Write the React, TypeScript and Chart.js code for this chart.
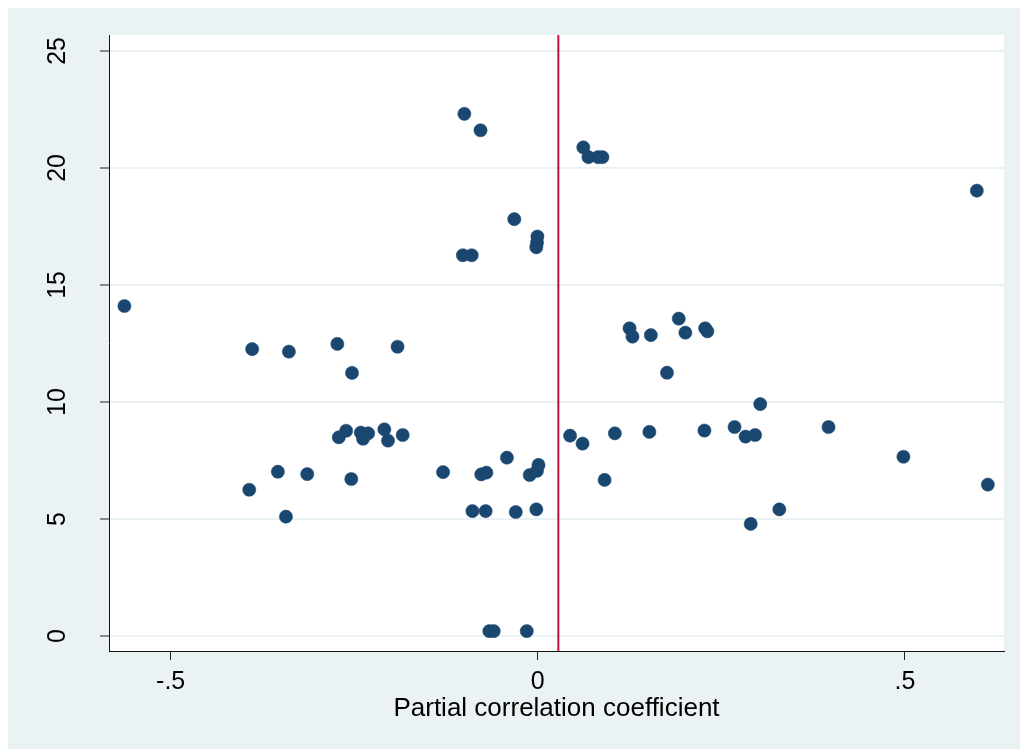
import React, { useEffect, useRef } from "react";
import { Chart, registerables } from "chart.js";

Chart.register(...registerables);

// Partial correlation coefficient (x) against outcome (y)
const xValues = [
  -0.563, -0.389, -0.339, -0.354, -0.393, -0.343, -0.273, -0.191, -0.253, -0.271,
  -0.261, -0.241, -0.238, -0.231, -0.209, -0.204, -0.184, -0.314, -0.254, -0.129,
  -0.077, -0.07, -0.042, -0.011, 0.001, -0.001, -0.089, -0.071, -0.03, -0.002,
  -0.066, -0.06, -0.015, 0.044, 0.061, 0.091, 0.105, 0.125, 0.129, 0.154,
  0.192, 0.201, 0.228, 0.231, 0.176, 0.303, 0.152, 0.227, 0.268, 0.283,
  0.296, 0.396, 0.29, 0.329, 0.598, 0.498, 0.613, -0.1, -0.078, 0.062,
  0.069, 0.082, 0.088, -0.032, -0.0005, -0.001, -0.002, -0.102, -0.09,
];
const yValues = [
  14.1, 12.26, 12.15, 7.02, 6.25, 5.1, 12.48, 12.36, 11.24, 8.49,
  8.77, 8.69, 8.43, 8.66, 8.83, 8.35, 8.59, 6.92, 6.71, 7.0,
  6.91, 6.98, 7.62, 6.88, 7.31, 7.06, 5.34, 5.34, 5.3, 5.41,
  0.21, 0.21, 0.21, 8.56, 8.22, 6.67, 8.66, 13.15, 12.79, 12.86,
  13.56, 12.96, 13.15, 13.02, 11.25, 9.91, 8.72, 8.78, 8.93, 8.52,
  8.59, 8.93, 4.79, 5.41, 19.03, 7.66, 6.47, 22.31, 21.61, 20.88,
  20.46, 20.46, 20.46, 17.81, 17.07, 16.81, 16.61, 16.27, 16.27,
];

// Vertical reference line position
const refLineX = 0.028;

// Axis ticks
const xTickValues = [-0.5, 0, 0.5];
const xTickLabels = ["-.5", "0", ".5"];
const yTickValues = [0, 5, 10, 15, 20, 25];
const yTickLabels = ["0", "5", "10", "15", "20", "25"];

const xMin = -0.584;
const xMax = 0.635;
const yMin = -0.64;
const yMax = 25.68;

const FONT_FAMILY = '"Liberation Sans", Arial, Helvetica, sans-serif';
const OUTER_BG = "#eaf2f3";
const MARKER = "#1a476f";
const REF_LINE = "#c8103c";

const backgroundPlugin = {
  id: "stataBackground",
  beforeDraw(chart: any) {
    const { ctx, chartArea, width, height } = chart;
    ctx.save();
    ctx.fillStyle = OUTER_BG;
    ctx.fillRect(0, 0, width, height);
    ctx.fillStyle = "#ffffff";
    ctx.fillRect(
      chartArea.left,
      chartArea.top,
      chartArea.right - chartArea.left,
      chartArea.bottom - chartArea.top
    );
    ctx.restore();
  },
};

// Y tick labels are rotated to read upward
const yLabelPlugin = {
  id: "rotatedYLabels",
  afterDraw(chart: any) {
    const { ctx } = chart;
    const yScale = chart.scales.y;
    ctx.save();
    ctx.font = `25px ${FONT_FAMILY}`;
    ctx.fillStyle = "#000000";
    ctx.textAlign = "center";
    ctx.textBaseline = "middle";
    yTickValues.forEach((v, i) => {
      const py = yScale.getPixelForValue(v);
      ctx.save();
      ctx.translate(50, py);
      ctx.rotate(-Math.PI / 2);
      ctx.fillText(yTickLabels[i], 0, 0);
      ctx.restore();
    });
    ctx.restore();
  },
};

export default function App() {
  const canvasRef = useRef<HTMLCanvasElement | null>(null);

  useEffect(() => {
    document.documentElement.style.overflow = "hidden";
    const canvas = canvasRef.current;
    if (!canvas) return;

    const chart = new Chart(canvas, {
      type: "scatter",
      data: {
        datasets: [
          {
            data: xValues.map((x, i) => ({ x, y: yValues[i] })),
            backgroundColor: MARKER,
            borderColor: MARKER,
            borderWidth: 0.5,
            pointRadius: 6.6,
            pointHoverRadius: 6.6,
          },
          {
            data: [
              { x: refLineX, y: yMin },
              { x: refLineX, y: yMax },
            ],
            showLine: true,
            borderColor: REF_LINE,
            borderWidth: 2,
            pointRadius: 0,
            pointHoverRadius: 0,
          } as any,
        ],
      },
      options: {
        animation: false,
        responsive: false,
        devicePixelRatio: 1,
        events: [],
        layout: { padding: { left: 0, top: 27, right: 16, bottom: 0 } },
        plugins: {
          legend: { display: false },
          tooltip: { enabled: false },
        },
        scales: {
          x: {
            type: "linear",
            min: xMin,
            max: xMax,
            afterBuildTicks: (scale: any) => {
              scale.ticks = xTickValues.map((value) => ({ value }));
            },
            afterFit: (scale: any) => {
              scale.height = 98;
            },
            ticks: {
              autoSkip: false,
              maxRotation: 0,
              minRotation: 0,
              padding: 7,
              color: "#000000",
              font: { family: FONT_FAMILY, size: 25 },
              callback: (value: any) => {
                const i = xTickValues.indexOf(Number(value));
                return i >= 0 ? xTickLabels[i] : "";
              },
            },
            grid: {
              drawOnChartArea: false,
              drawTicks: true,
              tickLength: 9,
              tickColor: "#222222",
              tickWidth: 1,
            },
            border: { display: true, color: "#111111", width: 1 },
            title: {
              display: true,
              text: "Partial correlation coefficient",
              color: "#000000",
              font: { family: FONT_FAMILY, size: 26 },
              padding: { top: 0, bottom: 25 },
            },
          },
          y: {
            type: "linear",
            min: yMin,
            max: yMax,
            afterBuildTicks: (scale: any) => {
              scale.ticks = yTickValues.map((value) => ({ value }));
            },
            afterFit: (scale: any) => {
              scale.width = 101;
            },
            ticks: { display: false },
            grid: {
              drawOnChartArea: true,
              drawTicks: true,
              tickLength: 9,
              color: OUTER_BG,
              lineWidth: 2,
              tickColor: "#222222",
              tickWidth: 1,
            },
            border: { display: true, color: "#111111", width: 1 },
          },
        },
      },
      plugins: [backgroundPlugin, yLabelPlugin],
    });

    return () => {
      chart.destroy();
    };
  }, []);

  return (
    <div style={{ position: "fixed", left: 8, top: 8, width: 1012, height: 741 }}>
      <canvas ref={canvasRef} width={1012} height={741} style={{ display: "block" }} />
    </div>
  );
}
